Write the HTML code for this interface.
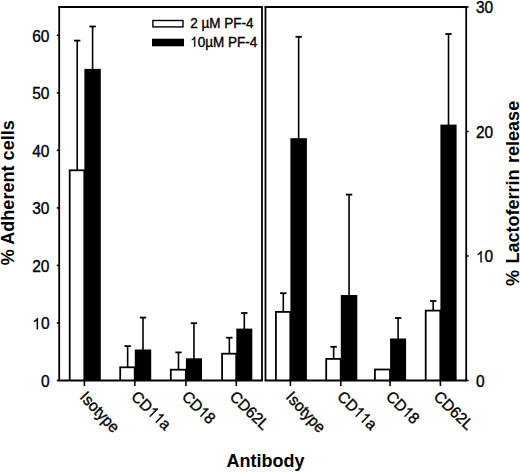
<!DOCTYPE html>
<html><head><meta charset="utf-8"><style>
html,body{margin:0;padding:0;background:#fff;}
body{width:520px;height:472px;overflow:hidden;font-family:"Liberation Sans",sans-serif;}
svg{display:block;}
</style></head><body>
<svg width="520" height="472" viewBox="0 0 520 472">
<rect width="520" height="472" fill="#fff"/>
<line x1="77.20" y1="170.40" x2="77.20" y2="40.60" stroke="#000" stroke-width="1.6"/>
<line x1="74.00" y1="40.60" x2="80.40" y2="40.60" stroke="#000" stroke-width="1.8"/>
<line x1="92.60" y1="69.90" x2="92.60" y2="26.50" stroke="#000" stroke-width="1.6"/>
<line x1="89.40" y1="26.50" x2="95.80" y2="26.50" stroke="#000" stroke-width="1.8"/>
<rect x="68.80" y="169.40" width="16.40" height="211.10" fill="#000"/>
<rect x="70.60" y="171.20" width="12.80" height="209.30" fill="#fff"/>
<rect x="84.40" y="68.90" width="16.40" height="311.60" fill="#000"/>
<line x1="127.65" y1="367.40" x2="127.65" y2="346.10" stroke="#000" stroke-width="1.6"/>
<line x1="124.45" y1="346.10" x2="130.85" y2="346.10" stroke="#000" stroke-width="1.8"/>
<line x1="143.00" y1="350.50" x2="143.00" y2="317.60" stroke="#000" stroke-width="1.6"/>
<line x1="139.80" y1="317.60" x2="146.20" y2="317.60" stroke="#000" stroke-width="1.8"/>
<rect x="119.30" y="366.40" width="16.30" height="14.10" fill="#000"/>
<rect x="121.10" y="368.20" width="12.70" height="12.30" fill="#fff"/>
<rect x="134.80" y="349.50" width="16.40" height="31.00" fill="#000"/>
<line x1="178.50" y1="369.80" x2="178.50" y2="352.40" stroke="#000" stroke-width="1.6"/>
<line x1="175.30" y1="352.40" x2="181.70" y2="352.40" stroke="#000" stroke-width="1.8"/>
<line x1="193.95" y1="359.30" x2="193.95" y2="323.20" stroke="#000" stroke-width="1.6"/>
<line x1="190.75" y1="323.20" x2="197.15" y2="323.20" stroke="#000" stroke-width="1.8"/>
<rect x="169.90" y="368.80" width="16.80" height="11.70" fill="#000"/>
<rect x="171.70" y="370.60" width="13.20" height="9.90" fill="#fff"/>
<rect x="185.90" y="358.30" width="16.10" height="22.20" fill="#000"/>
<line x1="229.35" y1="353.80" x2="229.35" y2="337.70" stroke="#000" stroke-width="1.6"/>
<line x1="226.15" y1="337.70" x2="232.55" y2="337.70" stroke="#000" stroke-width="1.8"/>
<line x1="244.30" y1="329.60" x2="244.30" y2="313.00" stroke="#000" stroke-width="1.6"/>
<line x1="241.10" y1="313.00" x2="247.50" y2="313.00" stroke="#000" stroke-width="1.8"/>
<rect x="221.20" y="352.80" width="15.90" height="27.70" fill="#000"/>
<rect x="223.00" y="354.60" width="12.30" height="25.90" fill="#fff"/>
<rect x="236.30" y="328.60" width="16.00" height="51.90" fill="#000"/>
<line x1="283.30" y1="312.00" x2="283.30" y2="293.20" stroke="#000" stroke-width="1.6"/>
<line x1="280.10" y1="293.20" x2="286.50" y2="293.20" stroke="#000" stroke-width="1.8"/>
<line x1="298.65" y1="139.20" x2="298.65" y2="36.80" stroke="#000" stroke-width="1.6"/>
<line x1="295.45" y1="36.80" x2="301.85" y2="36.80" stroke="#000" stroke-width="1.8"/>
<rect x="275.00" y="311.00" width="16.20" height="69.50" fill="#000"/>
<rect x="276.80" y="312.80" width="12.60" height="67.70" fill="#fff"/>
<rect x="290.40" y="138.20" width="16.50" height="242.30" fill="#000"/>
<line x1="333.65" y1="359.00" x2="333.65" y2="346.80" stroke="#000" stroke-width="1.6"/>
<line x1="330.45" y1="346.80" x2="336.85" y2="346.80" stroke="#000" stroke-width="1.8"/>
<line x1="349.05" y1="296.00" x2="349.05" y2="194.60" stroke="#000" stroke-width="1.6"/>
<line x1="345.85" y1="194.60" x2="352.25" y2="194.60" stroke="#000" stroke-width="1.8"/>
<rect x="325.30" y="358.00" width="16.30" height="22.50" fill="#000"/>
<rect x="327.10" y="359.80" width="12.70" height="20.70" fill="#fff"/>
<rect x="340.80" y="295.00" width="16.50" height="85.50" fill="#000"/>
<line x1="398.10" y1="339.50" x2="398.10" y2="318.00" stroke="#000" stroke-width="1.6"/>
<line x1="394.90" y1="318.00" x2="401.30" y2="318.00" stroke="#000" stroke-width="1.8"/>
<rect x="374.00" y="368.60" width="16.90" height="11.90" fill="#000"/>
<rect x="375.80" y="370.40" width="13.30" height="10.10" fill="#fff"/>
<rect x="390.10" y="338.50" width="16.00" height="42.00" fill="#000"/>
<line x1="433.20" y1="310.70" x2="433.20" y2="301.00" stroke="#000" stroke-width="1.6"/>
<line x1="430.00" y1="301.00" x2="436.40" y2="301.00" stroke="#000" stroke-width="1.8"/>
<line x1="448.50" y1="125.60" x2="448.50" y2="34.00" stroke="#000" stroke-width="1.6"/>
<line x1="445.30" y1="34.00" x2="451.70" y2="34.00" stroke="#000" stroke-width="1.8"/>
<rect x="424.80" y="309.70" width="16.40" height="70.80" fill="#000"/>
<rect x="426.60" y="311.50" width="12.80" height="69.00" fill="#fff"/>
<rect x="440.40" y="124.60" width="16.20" height="255.90" fill="#000"/>
<line x1="59.20" y1="7.00" x2="59.20" y2="380.50" stroke="#000" stroke-width="1.8"/>
<line x1="262.00" y1="7.00" x2="262.00" y2="380.50" stroke="#000" stroke-width="1.8"/>
<line x1="58.30" y1="7.00" x2="262.90" y2="7.00" stroke="#000" stroke-width="1.8"/>
<line x1="58.30" y1="380.50" x2="262.90" y2="380.50" stroke="#000" stroke-width="1.8"/>
<line x1="265.50" y1="7.00" x2="265.50" y2="380.50" stroke="#000" stroke-width="1.8"/>
<line x1="466.20" y1="7.00" x2="466.20" y2="380.50" stroke="#000" stroke-width="1.8"/>
<line x1="264.60" y1="7.00" x2="467.10" y2="7.00" stroke="#000" stroke-width="1.8"/>
<line x1="264.60" y1="380.50" x2="467.10" y2="380.50" stroke="#000" stroke-width="1.8"/>
<line x1="56.80" y1="380.50" x2="59.20" y2="380.50" stroke="#000" stroke-width="1.6"/>
<line x1="56.80" y1="322.97" x2="59.20" y2="322.97" stroke="#000" stroke-width="1.6"/>
<line x1="56.80" y1="265.44" x2="59.20" y2="265.44" stroke="#000" stroke-width="1.6"/>
<line x1="56.80" y1="207.91" x2="59.20" y2="207.91" stroke="#000" stroke-width="1.6"/>
<line x1="56.80" y1="150.38" x2="59.20" y2="150.38" stroke="#000" stroke-width="1.6"/>
<line x1="56.80" y1="92.85" x2="59.20" y2="92.85" stroke="#000" stroke-width="1.6"/>
<line x1="56.80" y1="35.32" x2="59.20" y2="35.32" stroke="#000" stroke-width="1.6"/>
<line x1="466.20" y1="380.50" x2="468.60" y2="380.50" stroke="#000" stroke-width="1.6"/>
<line x1="466.20" y1="256.00" x2="468.60" y2="256.00" stroke="#000" stroke-width="1.6"/>
<line x1="466.20" y1="131.50" x2="468.60" y2="131.50" stroke="#000" stroke-width="1.6"/>
<line x1="466.20" y1="7.00" x2="468.60" y2="7.00" stroke="#000" stroke-width="1.6"/>
<line x1="84.40" y1="380.50" x2="84.40" y2="386.00" stroke="#000" stroke-width="1.6"/>
<line x1="134.80" y1="380.50" x2="134.80" y2="386.00" stroke="#000" stroke-width="1.6"/>
<line x1="185.90" y1="380.50" x2="185.90" y2="386.00" stroke="#000" stroke-width="1.6"/>
<line x1="236.30" y1="380.50" x2="236.30" y2="386.00" stroke="#000" stroke-width="1.6"/>
<line x1="290.40" y1="380.50" x2="290.40" y2="386.00" stroke="#000" stroke-width="1.6"/>
<line x1="340.80" y1="380.50" x2="340.80" y2="386.00" stroke="#000" stroke-width="1.6"/>
<line x1="390.10" y1="380.50" x2="390.10" y2="386.00" stroke="#000" stroke-width="1.6"/>
<line x1="440.40" y1="380.50" x2="440.40" y2="386.00" stroke="#000" stroke-width="1.6"/>
<g transform="translate(49.5,386.90) scale(1,1.03)"><text x="-8.62" y="0" font-size="15.5" font-family="Liberation Sans, sans-serif" stroke="#000" stroke-width="0.35" xml:space="preserve">0</text></g>
<g transform="translate(49.5,329.37) scale(1,1.03)"><path d="M755 0L585 0L585 1140C540 1095 475 1048 395 1002C320 960 265 935 225 920L225 1090C315 1130 405 1190 480 1260C555 1330 605 1400 635 1466L755 1466Z" transform="translate(-17.24,0) scale(0.00757,-0.00757)" fill="#000" stroke="#000" stroke-width="27.7"/><text x="-8.62" y="0" font-size="15.5" font-family="Liberation Sans, sans-serif" stroke="#000" stroke-width="0.35" xml:space="preserve">0</text></g>
<g transform="translate(49.5,271.84) scale(1,1.03)"><text x="-17.24" y="0" font-size="15.5" font-family="Liberation Sans, sans-serif" stroke="#000" stroke-width="0.35" xml:space="preserve">20</text></g>
<g transform="translate(49.5,214.31) scale(1,1.03)"><text x="-17.24" y="0" font-size="15.5" font-family="Liberation Sans, sans-serif" stroke="#000" stroke-width="0.35" xml:space="preserve">30</text></g>
<g transform="translate(49.5,156.78) scale(1,1.03)"><text x="-17.24" y="0" font-size="15.5" font-family="Liberation Sans, sans-serif" stroke="#000" stroke-width="0.35" xml:space="preserve">40</text></g>
<g transform="translate(49.5,99.25) scale(1,1.03)"><text x="-17.24" y="0" font-size="15.5" font-family="Liberation Sans, sans-serif" stroke="#000" stroke-width="0.35" xml:space="preserve">50</text></g>
<g transform="translate(49.5,41.72) scale(1,1.03)"><text x="-17.24" y="0" font-size="15.5" font-family="Liberation Sans, sans-serif" stroke="#000" stroke-width="0.35" xml:space="preserve">60</text></g>
<g transform="translate(476.0,386.90) scale(1,1.03)"><text x="0.00" y="0" font-size="15.5" font-family="Liberation Sans, sans-serif" stroke="#000" stroke-width="0.35" xml:space="preserve">0</text></g>
<g transform="translate(476.0,262.40) scale(1,1.03)"><path d="M755 0L585 0L585 1140C540 1095 475 1048 395 1002C320 960 265 935 225 920L225 1090C315 1130 405 1190 480 1260C555 1330 605 1400 635 1466L755 1466Z" transform="translate(0.00,0) scale(0.00757,-0.00757)" fill="#000" stroke="#000" stroke-width="27.7"/><text x="8.62" y="0" font-size="15.5" font-family="Liberation Sans, sans-serif" stroke="#000" stroke-width="0.35" xml:space="preserve">0</text></g>
<g transform="translate(476.0,137.90) scale(1,1.03)"><text x="0.00" y="0" font-size="15.5" font-family="Liberation Sans, sans-serif" stroke="#000" stroke-width="0.35" xml:space="preserve">20</text></g>
<g transform="translate(476.0,13.40) scale(1,1.03)"><text x="0.00" y="0" font-size="15.5" font-family="Liberation Sans, sans-serif" stroke="#000" stroke-width="0.35" xml:space="preserve">30</text></g>
<text transform="translate(14.2,192.7) rotate(-90) scale(1.005,1)" text-anchor="middle" font-size="18" font-weight="bold" font-family="Liberation Sans, sans-serif">% Adherent cells</text>
<text transform="translate(519.3,193.4) rotate(-90) scale(1.003,1)" text-anchor="middle" word-spacing="1.3" font-size="18" font-weight="bold" font-family="Liberation Sans, sans-serif">% Lactoferrin release</text>
<text transform="translate(265.5,466.9) scale(1,1.04)" text-anchor="middle" font-size="18" font-weight="bold" font-family="Liberation Sans, sans-serif">Antibody</text>
<g transform="translate(79.10,397.8) rotate(47) scale(1,1.04)"><text x="0.00" y="0" font-size="15.3" font-family="Liberation Sans, sans-serif" stroke="#000" stroke-width="0.35" xml:space="preserve">Isotype</text></g>
<g transform="translate(130.30,397.8) rotate(44) scale(1,1.04)"><text x="0.00" y="0" font-size="15.3" font-family="Liberation Sans, sans-serif" stroke="#000" stroke-width="0.35" xml:space="preserve">CD</text><path d="M755 0L585 0L585 1140C540 1095 475 1048 395 1002C320 960 265 935 225 920L225 1090C315 1130 405 1190 480 1260C555 1330 605 1400 635 1466L755 1466Z" transform="translate(22.10,0) scale(0.00747,-0.00747)" fill="#000" stroke="#000" stroke-width="28.1"/><path d="M755 0L585 0L585 1140C540 1095 475 1048 395 1002C320 960 265 935 225 920L225 1090C315 1130 405 1190 480 1260C555 1330 605 1400 635 1466L755 1466Z" transform="translate(30.61,0) scale(0.00747,-0.00747)" fill="#000" stroke="#000" stroke-width="28.1"/><text x="39.12" y="0" font-size="15.3" font-family="Liberation Sans, sans-serif" stroke="#000" stroke-width="0.35" xml:space="preserve">a</text></g>
<g transform="translate(180.90,397.8) rotate(44) scale(1,1.04)"><text x="0.00" y="0" font-size="15.3" font-family="Liberation Sans, sans-serif" stroke="#000" stroke-width="0.35" xml:space="preserve">CD</text><path d="M755 0L585 0L585 1140C540 1095 475 1048 395 1002C320 960 265 935 225 920L225 1090C315 1130 405 1190 480 1260C555 1330 605 1400 635 1466L755 1466Z" transform="translate(22.10,0) scale(0.00747,-0.00747)" fill="#000" stroke="#000" stroke-width="28.1"/><text x="30.61" y="0" font-size="15.3" font-family="Liberation Sans, sans-serif" stroke="#000" stroke-width="0.35" xml:space="preserve">8</text></g>
<g transform="translate(228.70,397.8) rotate(44) scale(1,1.04)"><text x="0.00" y="0" font-size="15.3" font-family="Liberation Sans, sans-serif" stroke="#000" stroke-width="0.35" xml:space="preserve">CD62L</text></g>
<g transform="translate(285.10,397.8) rotate(47) scale(1,1.04)"><text x="0.00" y="0" font-size="15.3" font-family="Liberation Sans, sans-serif" stroke="#000" stroke-width="0.35" xml:space="preserve">Isotype</text></g>
<g transform="translate(336.30,397.8) rotate(44) scale(1,1.04)"><text x="0.00" y="0" font-size="15.3" font-family="Liberation Sans, sans-serif" stroke="#000" stroke-width="0.35" xml:space="preserve">CD</text><path d="M755 0L585 0L585 1140C540 1095 475 1048 395 1002C320 960 265 935 225 920L225 1090C315 1130 405 1190 480 1260C555 1330 605 1400 635 1466L755 1466Z" transform="translate(22.10,0) scale(0.00747,-0.00747)" fill="#000" stroke="#000" stroke-width="28.1"/><path d="M755 0L585 0L585 1140C540 1095 475 1048 395 1002C320 960 265 935 225 920L225 1090C315 1130 405 1190 480 1260C555 1330 605 1400 635 1466L755 1466Z" transform="translate(30.61,0) scale(0.00747,-0.00747)" fill="#000" stroke="#000" stroke-width="28.1"/><text x="39.12" y="0" font-size="15.3" font-family="Liberation Sans, sans-serif" stroke="#000" stroke-width="0.35" xml:space="preserve">a</text></g>
<g transform="translate(385.10,397.8) rotate(44) scale(1,1.04)"><text x="0.00" y="0" font-size="15.3" font-family="Liberation Sans, sans-serif" stroke="#000" stroke-width="0.35" xml:space="preserve">CD</text><path d="M755 0L585 0L585 1140C540 1095 475 1048 395 1002C320 960 265 935 225 920L225 1090C315 1130 405 1190 480 1260C555 1330 605 1400 635 1466L755 1466Z" transform="translate(22.10,0) scale(0.00747,-0.00747)" fill="#000" stroke="#000" stroke-width="28.1"/><text x="30.61" y="0" font-size="15.3" font-family="Liberation Sans, sans-serif" stroke="#000" stroke-width="0.35" xml:space="preserve">8</text></g>
<g transform="translate(432.80,397.8) rotate(44) scale(1,1.04)"><text x="0.00" y="0" font-size="15.3" font-family="Liberation Sans, sans-serif" stroke="#000" stroke-width="0.35" xml:space="preserve">CD62L</text></g>
<rect x="152.9" y="20.5" width="30.1" height="6.4" fill="#fff" stroke="#000" stroke-width="1.4"/>
<rect x="152" y="38.7" width="32" height="7.6" fill="#000"/>
<g transform="translate(190.3,28.4) scale(1,1.04)"><text x="0.00" y="0" font-size="13.5" font-family="Liberation Sans, sans-serif" stroke="#000" stroke-width="0.35" xml:space="preserve">2 µM PF-4</text></g>
<g transform="translate(190.3,46.7) scale(1,1.04)"><path d="M755 0L585 0L585 1140C540 1095 475 1048 395 1002C320 960 265 935 225 920L225 1090C315 1130 405 1190 480 1260C555 1330 605 1400 635 1466L755 1466Z" transform="translate(0.00,0) scale(0.00659,-0.00659)" fill="#000" stroke="#000" stroke-width="31.9"/><text x="7.51" y="0" font-size="13.5" font-family="Liberation Sans, sans-serif" stroke="#000" stroke-width="0.35" xml:space="preserve">0µM PF-4</text></g>
</svg>
</body></html>
